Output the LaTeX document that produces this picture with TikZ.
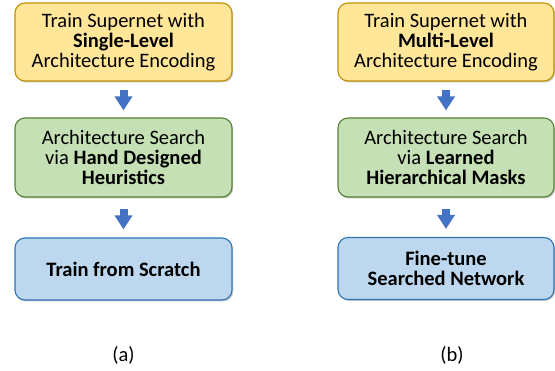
\documentclass[tikz,border=0pt]{standalone}
\usepackage{fontspec}
\setmainfont{Carlito}
\usetikzlibrary{shadows,arrows.meta}
\definecolor{yfill}{HTML}{FFE699}
\definecolor{ydraw}{HTML}{BF9000}
\definecolor{gfill}{HTML}{C5E0B4}
\definecolor{gdraw}{HTML}{548235}
\definecolor{bfill}{HTML}{BDD7EE}
\definecolor{bdraw}{HTML}{2E75B6}
\definecolor{afill}{HTML}{4472C4}
\tikzset{
  box/.style={rounded corners=10pt, line width=1.1pt, align=center,
    font=\fontsize{20.5}{19.8}\selectfont, inner sep=0pt,
    drop shadow={shadow xshift=1.2pt, shadow yshift=-1.5pt, opacity=0.35, fill=black!60}},
  ybox/.style={box, fill=yfill, draw=ydraw},
  gbox/.style={box, fill=gfill, draw=gdraw},
  bbox/.style={box, fill=bfill, draw=bdraw},
  blockarrow/.style={draw=afill, line width=8pt,
    -{Triangle[width=17pt,length=14pt,fill=afill]}, shorten >=0pt},
  captxt/.style={font=\fontsize{20.5}{20}\selectfont}
}
\begin{document}
\begin{tikzpicture}[x=1pt,y=1pt]
\useasboundingbox (0,0) rectangle (555,370);
% left column
\node[ybox, minimum width=217pt, minimum height=78pt] (a1) at (123.5,328)
  {Train Supernet with\\\textbf{Single-Level}\\Architecture Encoding};
\node[gbox, minimum width=217pt, minimum height=79pt] (a2) at (123.5,212.5)
  {Architecture Search\\via \textbf{Hand Designed}\\\textbf{Heuristics}};
\node[bbox, minimum width=217pt, minimum height=62pt] (a3) at (123.5,101)
  {\textbf{Train from Scratch}};
\node[captxt] (la) at (123.5,15) {(a)};
% right column
\node[ybox, minimum width=216pt, minimum height=78pt] (b1) at (446,328)
  {Train Supernet with\\\textbf{Multi-Level}\\Architecture Encoding};
\node[gbox, minimum width=216pt, minimum height=79pt] (b2) at (446,212.5)
  {Architecture Search\\via \textbf{Learned}\\\textbf{Hierarchical Masks}};
\node[bbox, minimum width=216pt, minimum height=62pt] (b3) at (446,101.5)
  {\textbf{Fine-tune}\\\textbf{Searched Network}};
\node[captxt] (lb) at (452,15) {(b)};
% arrows
\draw[blockarrow] ([yshift=-8pt]a1.south) -- ([yshift=7pt]a2.north);
\draw[blockarrow] ([yshift=-11pt]a2.south) -- ([yshift=8pt]a3.north);
\draw[blockarrow] ([yshift=-8pt]b1.south) -- ([yshift=7pt]b2.north);
\draw[blockarrow] ([yshift=-11pt]b2.south) -- ([yshift=8pt]b3.north);
\end{tikzpicture}
\end{document}
